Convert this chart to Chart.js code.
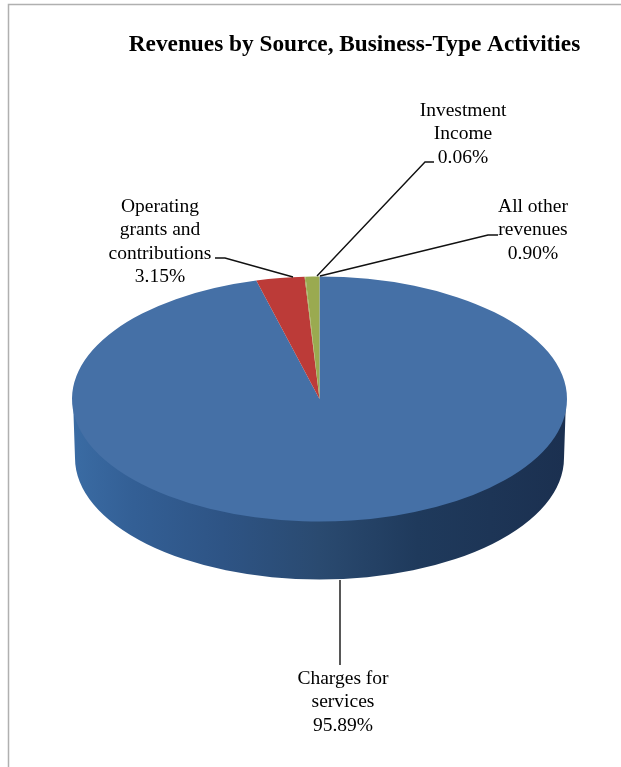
<!DOCTYPE html>
<html>
<head>
<meta charset="utf-8">
<style>
html,body{margin:0;padding:0;background:#fff;overflow:hidden}
#wrap{position:relative;width:621px;height:767px}
</style>
<script src="https://cdn.jsdelivr.net/npm/chart.js@4"></script>
</head>
<body>
<div id="wrap"><canvas id="c"></canvas></div>
<script>
const chartTitle = 'Revenues by Source, Business-Type Activities';
const categories = ['Charges for services', 'Operating grants and contributions', 'Investment Income', 'All other revenues'];
const shares = [95.89, 3.15, 0.06, 0.90];
const sliceColors = ['#4570A6', '#BC3B38', '#9AAA50', '#9AAA50'];
const labelLines = [['Charges for', 'services'], ['Operating', 'grants and', 'contributions'], ['Investment', 'Income'], ['All other', 'revenues']];
const labelCenters = [[343, 679], [160, 207], [463, 111], [533, 207]];
const leaders = [
  [[340, 580], [340, 665]],
  [[293, 277], [225, 258], [215, 258]],
  [[317, 276], [425, 162], [434, 162]],
  [[320, 276], [488, 235], [498, 235]]
];
const SQUASH = 0.495, DEPTH = 59, LINE_H = 23.3, FONT = '"Liberation Serif", serif';

const pie3d = {
  id: 'pie3d',
  beforeDatasetsDraw(chart) {
    const ctx = chart.ctx, arc = chart.getDatasetMeta(0).data[0];
    const cx = arc.x, cy = arc.y, r = arc.outerRadius, ry = r * SQUASH, r2 = r - 3;
    ctx.save();
    ctx.strokeStyle = '#b0b0b0'; ctx.lineWidth = 1.5;
    ctx.beginPath(); ctx.moveTo(8.5, 767); ctx.lineTo(8.5, 4.5); ctx.lineTo(621, 4.5); ctx.stroke();
    const g = ctx.createLinearGradient(cx - r2, 0, cx + r2, 0);
    g.addColorStop(0, '#3A6BA3'); g.addColorStop(0.12, '#335F95'); g.addColorStop(0.3, '#2E5485');
    g.addColorStop(0.5, '#2A4A70'); g.addColorStop(0.7, '#1F3A5C'); g.addColorStop(1, '#1B3050');
    ctx.fillStyle = g;
    ctx.beginPath();
    ctx.moveTo(cx - r + 1, cy);
    ctx.lineTo(cx - r2, cy + DEPTH);
    ctx.ellipse(cx, cy + DEPTH, r2, ry - 1, 0, Math.PI, 0, true);
    ctx.lineTo(cx + r - 1, cy);
    ctx.closePath();
    ctx.fill();
    ctx.restore();
    ctx.save();
    ctx.translate(cx, cy); ctx.scale(1, SQUASH); ctx.translate(-cx, -cy);
  },
  afterDatasetsDraw(chart) {
    const ctx = chart.ctx;
    ctx.restore();
    ctx.save();
    ctx.strokeStyle = '#111'; ctx.lineWidth = 1.4;
    leaders.forEach(pts => {
      ctx.beginPath();
      pts.forEach((p, i) => i ? ctx.lineTo(p[0], p[1]) : ctx.moveTo(p[0], p[1]));
      ctx.stroke();
    });
    ctx.fillStyle = '#000'; ctx.textAlign = 'center';
    ctx.textBaseline = 'alphabetic';
    ctx.font = 'bold 23.3px ' + FONT;
    ctx.fillText(chartTitle, 354.5, 51);
    ctx.textBaseline = 'middle';
    ctx.font = '19.5px ' + FONT;
    categories.forEach((name, i) => {
      const lines = labelLines[i].concat(shares[i].toFixed(2) + '%');
      lines.forEach((t, k) => ctx.fillText(t, labelCenters[i][0], labelCenters[i][1] + k * LINE_H));
    });
    ctx.restore();
  }
};

new Chart(document.getElementById('c'), {
  type: 'pie',
  data: { labels: categories, datasets: [{ data: shares, backgroundColor: sliceColors, borderWidth: 0 }] },
  options: {
    responsive: true, maintainAspectRatio: false, animation: false,
    layout: { padding: { left: 72, right: 54, top: 151.5, bottom: 120.5 } },
    plugins: { legend: { display: false }, tooltip: { enabled: false }, title: { display: false } }
  },
  plugins: [pie3d]
});
</script>
</body>
</html>
